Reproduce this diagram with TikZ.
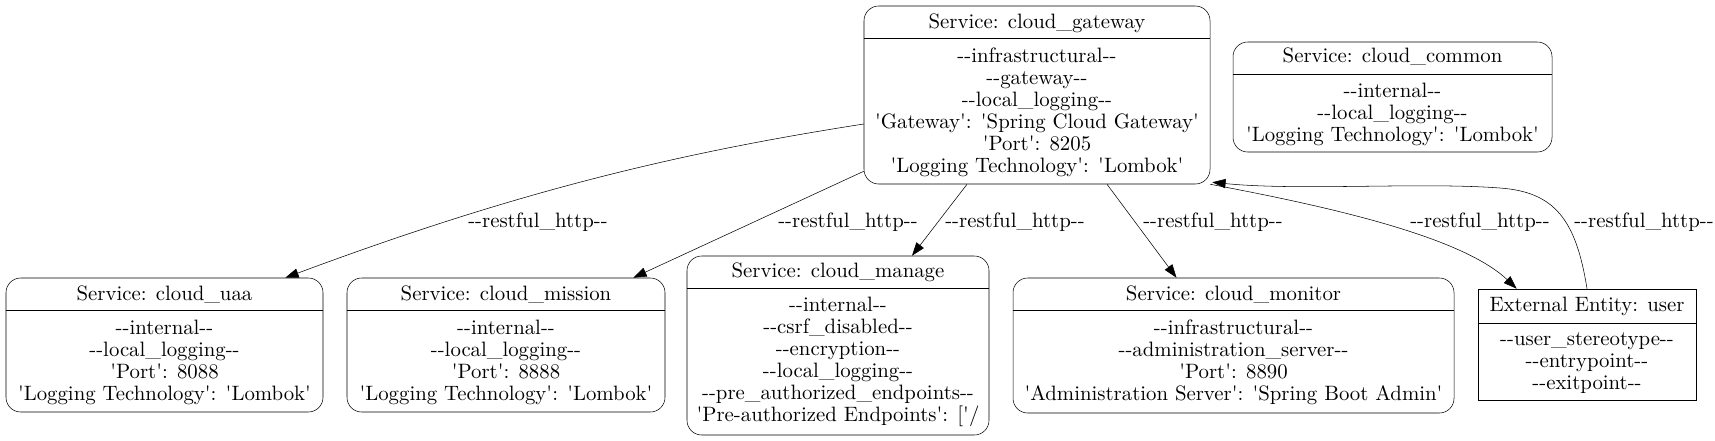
\documentclass[tikz,border=0pt]{standalone}
\usepackage{fontspec}
\setmainfont{lmroman10-regular.otf}[Ligatures=TeXOff]
\usepackage{tikz}
\usetikzlibrary{arrows.meta}
\usetikzlibrary{calc}

\begin{document}
\begin{tikzpicture}[x=0.75pt,y=-0.75pt,
  every node/.style={font=\fontsize{15.6}{16.5}\selectfont},
  box/.style 2 args={minimum width=#1*0.75pt, minimum height=#2*0.75pt},
  svc/.style={draw, rounded corners=11pt, inner sep=0pt},
  ent/.style={draw, inner sep=0pt},
  body/.style={align=center, inner sep=0pt},
  lbl/.style={inner sep=0pt},
  flow/.style={-{Triangle[length=10pt,width=7pt]}}]
  \useasboundingbox (0,0) rectangle (1715,440);

  % services and the user
  \node[svc, box={346}{178}] (gateway) at (1037,95) {};
  \node[svc, box={319}{110}] (common) at (1392.5,97) {};
  \node[svc, box={317}{134}] (uaa) at (164.5,345) {};
  \node[svc, box={318}{134}] (mission) at (506,345) {};
  \node[svc, box={302}{179}] (manage) at (838,345.5) {};
  \node[svc, box={441}{135}] (monitor) at (1233.5,345.5) {};
  \node[ent, box={218}{111}] (user) at (1587,344.5) {};
  \foreach \n in {gateway,common,uaa,mission,manage,monitor}
    \draw ($(\n.north west)+(0,33)$) -- ($(\n.north east)+(0,33)$);
  \draw ($(user.north west)+(0,35)$) -- ($(user.north east)+(0,35)$);

  \node (gateway-t) at (1037,23) {Service: cloud\_gateway};
  \node[body] (gateway-b) at (1037,112.5) {--infrastructural--\\--gateway--\\--local\_logging--\\'Gateway': 'Spring Cloud Gateway'\\'Port': 8205\\'Logging Technology': 'Lombok'};
  \node (common-t) at (1392.5,57) {Service: cloud\_common};
  \node[body] (common-b) at (1392.5,114) {--internal--\\--local\_logging--\\'Logging Technology': 'Lombok'};
  \node (uaa-t) at (164.5,295) {Service: cloud\_uaa};
  \node[body] (uaa-b) at (164.5,362) {--internal--\\--local\_logging--\\'Port': 8088\\'Logging Technology': 'Lombok'};
  \node (mission-t) at (506,295) {Service: cloud\_mission};
  \node[body] (mission-b) at (506,362) {--internal--\\--local\_logging--\\'Port': 8888\\'Logging Technology': 'Lombok'};
  \node (manage-t) at (838,272) {Service: cloud\_manage};
  \node[body] (manage-b) at (838,362) {--internal--\\--csrf\_disabled--\\--encryption--\\--local\_logging--\\--pre\_authorized\_endpoints--\\'Pre-authorized Endpoints': ['/};
  \node (monitor-t) at (1233.5,295) {Service: cloud\_monitor};
  \node[body] (monitor-b) at (1233.5,362) {--infrastructural--\\--administration\_server--\\'Port': 8890\\'Administration Server': 'Spring Boot Admin'};
  \node (user-t) at (1587,306) {External Entity: user};
  \node[body] (user-b) at (1587,363) {--user\_stereotype--\\--entrypoint--\\--exitpoint--};

  % flows
  \draw[flow] ($(gateway.west)+(0,29)$) .. controls (664,155) and (505,196) .. ($(uaa.north east)+(-38,0)$);
  \draw[flow] ($(gateway.south west)+(0,-13)$) -- ($(mission.north east)+(-32,0)$);
  \draw[flow] ($(gateway.south)+(-70,0)$) -- ($(manage.north)+(74,0)$);
  \draw[flow] ($(gateway.south)+(70,0)$) -- ($(monitor.north)+(-57,0)$);
  \draw[flow] (gateway.south east) .. controls (1320,205) and (1460,235) .. ($(user.north west)+(39,0)$);
  \draw[flow] (user.north) .. controls (1576,220) and (1555,192) .. (1500,188) .. controls (1420,182) and (1300,191) .. ($(gateway.south east)+(2,-2)$);

  \node[lbl] (l-uaa) at (538,222) {--restful\_http--};
  \node[lbl] (l-mission) at (848,222) {--restful\_http--};
  \node[lbl] (l-manage) at (1015,222) {--restful\_http--};
  \node[lbl] (l-monitor) at (1213,222) {--restful\_http--};
  \node[lbl] (l-user) at (1480,222) {--restful\_http--};
  \node[lbl] (l-back) at (1644,222) {--restful\_http--};
\end{tikzpicture}
\end{document}
